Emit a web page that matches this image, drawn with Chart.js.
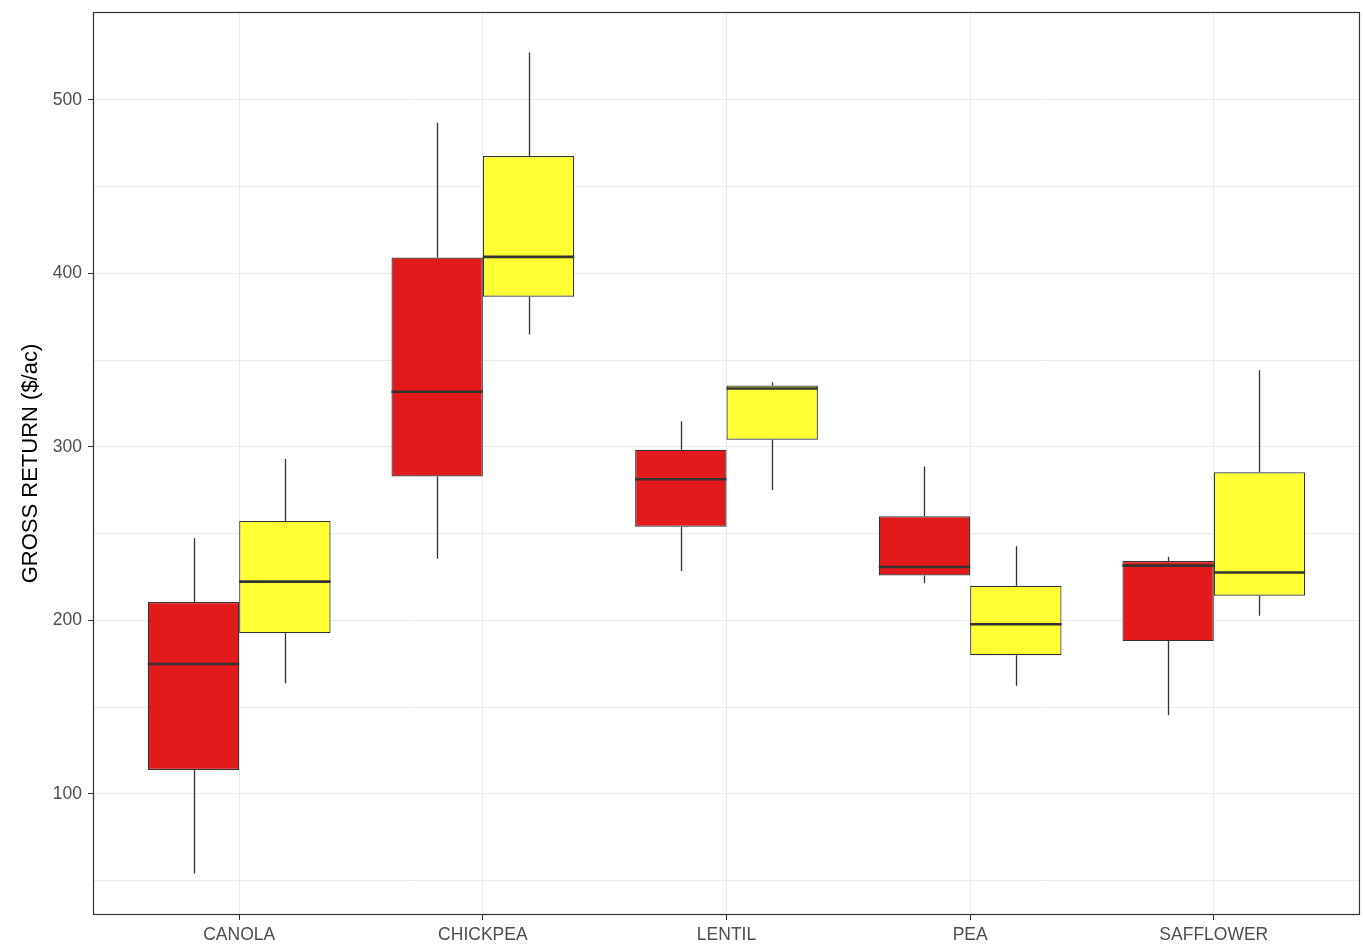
<!DOCTYPE html>
<html>
<head>
<meta charset="utf-8">
<title>Gross return by crop</title>
<script src="https://cdn.jsdelivr.net/npm/chart.js@4/dist/chart.umd.min.js"></script>
<style>
  html, body { margin: 0; padding: 0; background: #fff; }
  #wrap { width: 1365px; height: 951px; }
</style>
</head>
<body>
<div id="wrap"><canvas id="boxChart" width="1365" height="951"></canvas></div>
<script>
// crops along the x axis
const crops = ['CANOLA', 'CHICKPEA', 'LENTIL', 'PEA', 'SAFFLOWER'];

// red group (left box of each pair)
const redMin    = [54.0, 235.5, 228.4, 221.4, 145.2];
const redQ1     = [113.7, 282.9, 253.9, 225.9, 188.0];
const redMedian = [174.8, 331.8, 281.3, 230.7, 231.5];
const redQ3     = [210.5, 409.1, 298.3, 260.0, 234.2];
const redMax    = [247.3, 486.9, 314.7, 288.6, 236.7];

// yellow group (right box of each pair)
const yelMin    = [163.7, 364.7, 275.1, 162.2, 202.6];
const yelQ1     = [192.5, 386.5, 304.1, 179.9, 214.2];
const yelMedian = [222.3, 409.5, 333.6, 197.7, 227.6];
const yelQ3     = [257.3, 467.7, 335.3, 219.9, 285.3];
const yelMax    = [293.0, 527.3, 337.3, 242.7, 344.2];

// y axis breaks (labelled every 100, light lines every 50)
const yBreaks = [50, 100, 150, 200, 250, 300, 350, 400, 450, 500];
const yLabelled = [100, 200, 300, 400, 500];

const INK = '#333333';
const TICK_TEXT = '#4d4d4d';
const GRID = '#ebebeb';
const FONT = "'Liberation Sans', Arial, sans-serif";

function boxData(q1, q3) {
    return crops.map((c, i) => ({ x: i + 1, y: [q1[i], q3[i]] }));
}

const groups = [
    { min: redMin, med: redMedian, max: redMax, q1: redQ1, q3: redQ3 },
    { min: yelMin, med: yelMedian, max: yelMax, q1: yelQ1, q3: yelQ3 }
];

// whiskers, medians and the panel frame, placed through the chart's scales
const boxExtras = {
    id: 'boxExtras',
    afterDatasetsDraw(chart) {
        const ctx = chart.ctx;
        const yScale = chart.scales.y;
        ctx.save();
        groups.forEach((g, di) => {
            const meta = chart.getDatasetMeta(di);
            meta.data.forEach((bar, i) => {
                const cx = Math.round(bar.x) + 0.5;
                const half = bar.width / 2;
                // whiskers
                ctx.strokeStyle = INK;
                ctx.lineWidth = 1.3;
                ctx.beginPath();
                ctx.moveTo(cx, yScale.getPixelForValue(g.max[i]));
                ctx.lineTo(cx, yScale.getPixelForValue(g.q3[i]));
                ctx.moveTo(cx, yScale.getPixelForValue(g.q1[i]));
                ctx.lineTo(cx, yScale.getPixelForValue(g.min[i]));
                ctx.stroke();
                // median
                ctx.lineWidth = 2.6;
                ctx.beginPath();
                const my = yScale.getPixelForValue(g.med[i]);
                ctx.moveTo(bar.x - half, my);
                ctx.lineTo(bar.x + half, my);
                ctx.stroke();
            });
        });
        // panel border
        const a = chart.chartArea;
        ctx.strokeStyle = INK;
        ctx.lineWidth = 1.2;
        ctx.strokeRect(a.left + 0.5, a.top + 0.5, a.right - a.left - 1, a.bottom - a.top - 1);
        ctx.restore();
    }
};

const canvas = document.getElementById('boxChart');
try {
    new Chart(canvas, {
        type: 'bar',
        data: {
            datasets: [{
                label: 'Group 1',
                data: boxData(redQ1, redQ3),
                backgroundColor: '#e31a1c',
                borderColor: INK,
                borderWidth: 1.2,
                borderSkipped: false
            }, {
                label: 'Group 2',
                data: boxData(yelQ1, yelQ3),
                backgroundColor: '#ffff33',
                borderColor: INK,
                borderWidth: 1.2,
                borderSkipped: false
            }]
        },
        options: {
            responsive: false,
            animation: false,
            devicePixelRatio: 1,
            categoryPercentage: 0.75,
            barPercentage: 1.0,
            layout: { padding: { top: 12, right: 5, left: 0, bottom: 0 } },
            plugins: {
                legend: { display: false },
                title: { display: false },
                tooltip: { enabled: false }
            },
            scales: {
                x: {
                    type: 'linear',
                    offset: false,
                    min: 0.4,
                    max: 5.6,
                    afterBuildTicks: (scale) => {
                        scale.ticks = crops.map((c, i) => ({ value: i + 1 }));
                    },
                    afterFit: (scale) => {
                        scale.height = 36;
                        scale.paddingLeft = 0;
                        scale.paddingRight = 0;
                    },
                    border: { display: false },
                    grid: {
                        offset: false,
                        color: GRID,
                        lineWidth: 1,
                        tickColor: INK,
                        tickLength: 5
                    },
                    ticks: {
                        autoSkip: false,
                        maxRotation: 0,
                        padding: 5,
                        color: TICK_TEXT,
                        font: { family: FONT, size: 17.5 },
                        callback: (v) => crops[Math.round(v) - 1] || ''
                    }
                },
                y: {
                    type: 'linear',
                    min: 30.1,
                    max: 550.7,
                    afterBuildTicks: (scale) => {
                        scale.ticks = yBreaks.map(v => ({ value: v }));
                    },
                    afterFit: (scale) => {
                        scale.width = 93;
                        scale.paddingTop = 0;
                        scale.paddingBottom = 0;
                    },
                    border: { display: false },
                    grid: {
                        color: GRID,
                        lineWidth: 1,
                        tickLength: 5,
                        tickColor: (c) => (c.tick && yLabelled.includes(c.tick.value)) ? INK : 'rgba(0,0,0,0)'
                    },
                    ticks: {
                        padding: 6,
                        color: TICK_TEXT,
                        font: { family: FONT, size: 17.5 },
                        callback: (v) => yLabelled.includes(v) ? String(v) : ''
                    },
                    title: {
                        display: true,
                        text: 'GROSS RETURN ($/ac)',
                        color: '#000',
                        font: { family: FONT, size: 22 },
                        padding: { top: 18, bottom: 0 }
                    }
                }
            }
        },
        plugins: [boxExtras]
    });
} catch (chartError) {
    console.error('Error drawing box chart:', chartError);
}
</script>
</body>
</html>
